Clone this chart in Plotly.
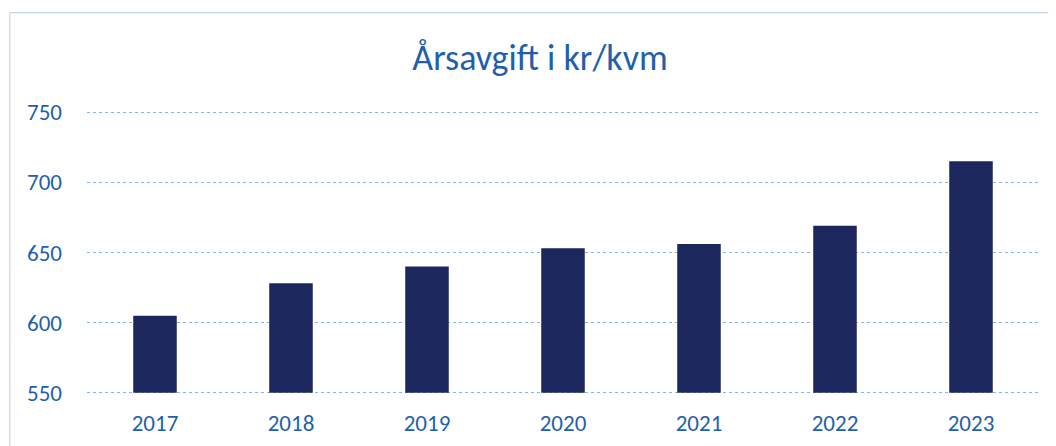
import plotly.graph_objects as go

years = ["2017", "2018", "2019", "2020", "2021", "2022", "2023"]
values = [605, 628, 640, 653, 656, 669, 715]
y_ticks = [550, 600, 650, 700, 750]
y_base = 550
title_text = "Årsavgift i kr/kvm"

text_color = "#1f5fae"
bar_color = "#1c275e"
grid_color = "#86b6e6"
border_color = "#b9cce0"
font_family = "Carlito, Lato, 'Open Sans', sans-serif"

fig = go.Figure(go.Bar(
    x=years, y=[v - y_base for v in values], base=y_base,
    customdata=values, hovertemplate="%{x}: %{customdata}<extra></extra>",
    marker=dict(color=bar_color, line=dict(width=0)), width=0.32,
))

fig.update_layout(
    width=1048, height=438,
    margin=dict(l=79, r=17, t=100, b=49, autoexpand=False),
    paper_bgcolor="white", plot_bgcolor="white",
    showlegend=False,
    title=dict(text=title_text, x=532 / 1048, xanchor="center", y=1 - 49 / 438, yanchor="middle",
               font=dict(family=font_family, size=36, color=text_color)),
    font=dict(family=font_family, color=text_color),
    shapes=[
        dict(type="line", xref="paper", yref="paper", x0=-0.081, x1=1.012, y0=1.33, y1=1.33,
             line=dict(color=border_color, width=1)),
        dict(type="line", xref="paper", yref="paper", x0=-0.081, x1=-0.081, y0=1.33, y1=-0.2,
             line=dict(color=border_color, width=1)),
    ],
)
fig.update_xaxes(automargin=False, showgrid=False, showline=False, ticks="",
                 tickfont=dict(size=23, color=text_color), ticklabelstandoff=10)
fig.update_yaxes(automargin=False, range=[547, 753], tickvals=y_ticks, showgrid=True, gridcolor=grid_color,
                 gridwidth=1, griddash="dot", zeroline=False, showline=False, ticks="",
                 tickfont=dict(size=23, color=text_color), ticklabelstandoff=24)
fig.write_html("out.html")
